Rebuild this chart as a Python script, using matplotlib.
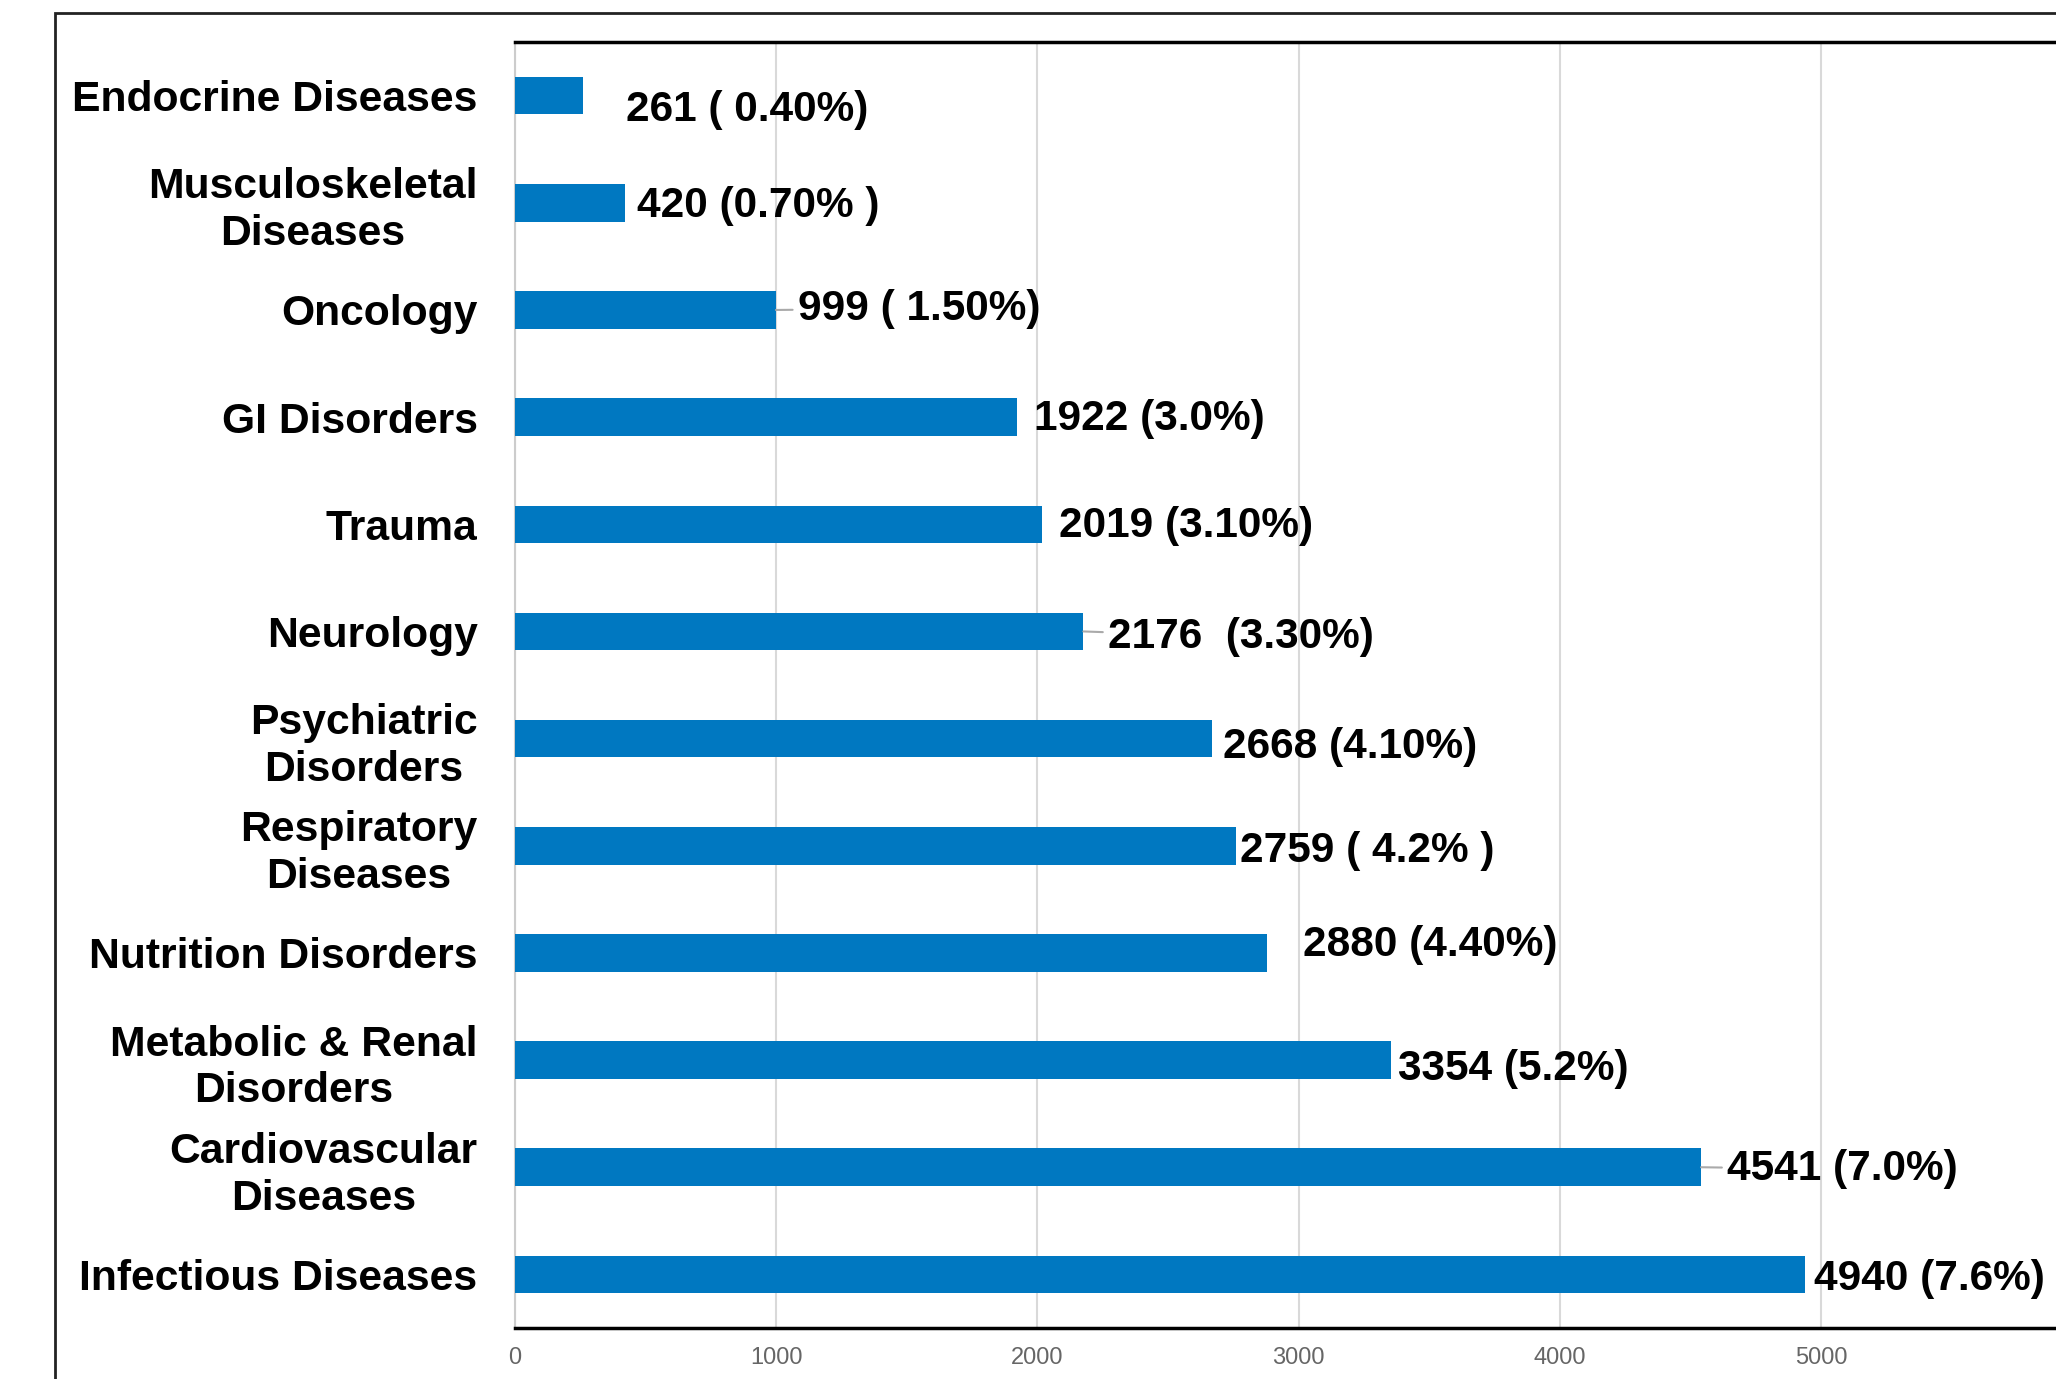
import matplotlib
matplotlib.use("Agg")
import matplotlib.pyplot as plt
from matplotlib.patches import Rectangle

# data, top to bottom as drawn
categories = ["Endocrine Diseases", "Musculoskeletal\nDiseases", "Oncology",
              "GI Disorders", "Trauma", "Neurology", "Psychiatric\nDisorders",
              "Respiratory\nDiseases", "Nutrition Disorders",
              "Metabolic & Renal\nDisorders", "Cardiovascular\nDiseases",
              "Infectious Diseases"]
counts = [261, 420, 999, 1922, 2019, 2176, 2668, 2759, 2880, 3354, 4541, 4940]
value_labels = ["261 ( 0.40%)", "420 (0.70% )", "999 ( 1.50%)", "1922 (3.0%)",
                "2019 (3.10%)", "2176  (3.30%)", "2668 (4.10%)", "2759 ( 4.2% )",
                "2880 (4.40%)", "3354 (5.2%)", "4541 (7.0%)", "4940 (7.6%)"]
x_ticks = [0, 1000, 2000, 3000, 4000, 5000]

# label offsets from bar end (points), hand placed like the original
label_dx = [31, 9, 16, 12, 12, 18, 8, 3, 26, 5, 19, 6]
label_dy = [-10, -2, 1, -1, -1.5, -4, -6, -4, 6, -6.5, -1.5, -3]
leader = [False, False, True, False, False, True, False, False, False, False, True, False]

plt.rcParams['font.family'] = ['Liberation Sans', 'DejaVu Sans']

fig = plt.figure(figsize=(20.56, 13.79), dpi=100)
ax = fig.add_axes([0.2505, 0.037, 0.7622, 0.9325])

# outer frame
fig.patches.append(Rectangle((55/2056, -0.1), 1.2, 1 - 13/1379 + 0.1,
                             transform=fig.transFigure, fill=False,
                             edgecolor='#222222', linewidth=2, zorder=0))

ypos = list(range(len(categories)))
ax.barh(ypos, counts, height=0.35, color='#0078c1', zorder=3)

ax.set_ylim(len(categories) - 0.5, -0.5)
ax.set_xlim(0, 6000)
ax.set_xticks(x_ticks)
ax.set_xticklabels([str(t) for t in x_ticks])
ax.tick_params(axis='x', length=0, pad=14, labelsize=17, labelcolor='#666666')
ax.set_yticks(ypos)
ax.set_yticklabels(categories, fontsize=30.7, fontweight='bold',
                   linespacing=1.22, multialignment='center')
ax.tick_params(axis='y', length=0, pad=27)

ax.grid(axis='x', color='#d9d9d9', linewidth=1.5, zorder=0)
ax.set_axisbelow(True)

ax.spines['right'].set_visible(False)
ax.spines['left'].set_color('#cccccc')
ax.spines['left'].set_linewidth(1.5)
ax.spines['top'].set_color('black')
ax.spines['top'].set_linewidth(2.5)
ax.spines['bottom'].set_color('black')
ax.spines['bottom'].set_linewidth(2.5)

for i, (v, lab) in enumerate(zip(counts, value_labels)):
    props = None
    if leader[i]:
        props = dict(arrowstyle='-', color='#aaaaaa', lw=1.5, shrinkA=2, shrinkB=0)
    ax.annotate(lab, xy=(v, i), xytext=(label_dx[i], label_dy[i]),
                textcoords='offset points', ha='left', va='center',
                fontsize=30.5, fontweight='bold', color='black',
                arrowprops=props, annotation_clip=False)

fig.savefig('out.png', dpi=100)
